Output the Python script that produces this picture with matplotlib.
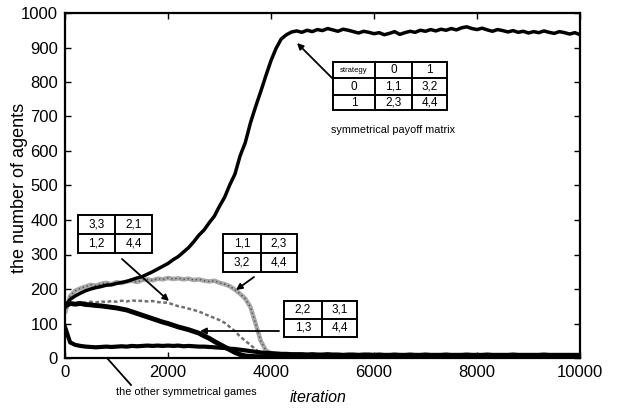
import matplotlib
matplotlib.use("Agg")
import matplotlib.pyplot as plt
from matplotlib.patches import Rectangle, FancyArrowPatch
from matplotlib.lines import Line2D

# ---------------- data ----------------
iters = list(range(0, 10001, 100))

main_game = [150, 170, 180, 188, 195, 200, 204, 207, 211, 212, 216, 219, 222, 227, 232, 236, 243, 250, 258, 266,
             274, 285, 294, 307, 320, 337, 356, 371, 392, 411, 440, 466, 502, 533, 586, 624, 681, 728, 772, 818,
             862, 898, 925, 937, 945, 948, 944, 950, 946, 952, 949, 955, 951, 947, 953, 950, 946, 942, 947, 944,
             940, 943, 937, 941, 946, 938, 943, 947, 944, 950, 947, 952, 948, 953, 950, 955, 951, 957, 960, 955,
             952, 956, 951, 947, 952, 949, 945, 949, 944, 947, 942, 946, 943, 948, 944, 941, 946, 943, 939, 943,
             937]

game_11_23 = [130, 180, 195, 202, 207, 212, 210, 215, 218, 214, 220, 217, 222, 224, 220, 226, 228, 225, 230, 228,
              232, 229, 231, 228, 230, 226, 228, 224, 222, 224, 218, 214, 208, 198, 186, 172, 148, 100, 50, 22,
              14, 12, 11, 10, 10, 9, 9, 9, 8, 8, 8, 8, 8, 8, 8, 8, 8, 8, 8, 8,
              8, 8, 8, 8, 8, 8, 8, 8, 8, 8, 8, 8, 8, 8, 8, 8, 8, 8, 8, 8,
              8, 8, 8, 8, 8, 8, 8, 8, 8, 8, 8, 8, 8, 8, 8, 8, 8, 8, 8, 8,
              8]

game_33_21 = [150, 158, 160, 162, 160, 163, 161, 164, 162, 165, 163, 166, 164, 167, 165, 166, 164, 165, 162, 161,
              160, 155, 150, 147, 143, 139, 135, 128, 122, 116, 110, 102, 90, 78, 62, 50, 38, 25, 15, 10,
              7, 6, 5, 5, 5, 5, 5, 5, 5, 5, 5, 5, 5, 5, 5, 5, 5, 5, 5, 5,
              5, 5, 5, 5, 5, 5, 5, 5, 5, 5, 5, 5, 5, 5, 5, 5, 5, 5, 5, 5,
              5, 5, 5, 5, 5, 5, 5, 5, 5, 5, 5, 5, 5, 5, 5, 5, 5, 5, 5, 5,
              5]

game_22_31 = [150, 158, 156, 158, 155, 154, 152, 151, 149, 147, 145, 142, 139, 134, 129, 124, 119, 114, 109, 104,
              100, 95, 90, 86, 82, 77, 72, 64, 57, 48, 40, 32, 24, 16, 10, 6, 5, 4, 4, 4,
              4, 4, 4, 4, 4, 4, 4, 4, 4, 4, 4, 4, 4, 4, 4, 4, 4, 4, 4, 4,
              4, 4, 4, 4, 4, 4, 4, 4, 4, 4, 4, 4, 4, 4, 4, 4, 4, 4, 4, 4,
              4, 4, 4, 4, 4, 4, 4, 4, 4, 4, 4, 4, 4, 4, 4, 4, 4, 4, 4, 4,
              4]

other_games = [90, 45, 38, 35, 33, 32, 31, 32, 33, 32, 33, 34, 33, 35, 34, 35, 36, 35, 36, 35,
               36, 35, 36, 34, 35, 34, 33, 33, 32, 31, 30, 29, 27, 26, 24, 22, 20, 18, 16, 15,
               14, 13, 12, 12, 11, 11, 11, 10, 11, 10, 10, 11, 10, 10, 9, 10, 10, 9, 10, 10,
               9, 10, 9, 9, 10, 9, 9, 10, 9, 9, 10, 9, 9, 9, 10, 9, 9, 9, 10, 9,
               9, 9, 10, 9, 9, 9, 9, 10, 9, 9, 9, 9, 9, 10, 9, 9, 9, 9, 9, 9,
               9]

x_ticks = [0, 2000, 4000, 6000, 8000, 10000]
y_ticks = [0, 100, 200, 300, 400, 500, 600, 700, 800, 900, 1000]

payoff_rows = [["strategy", "0", "1"], ["0", "1,1", "3,2"], ["1", "2,3", "4,4"]]
table_33 = [["3,3", "2,1"], ["1,2", "4,4"]]
table_11 = [["1,1", "2,3"], ["3,2", "4,4"]]
table_22 = [["2,2", "3,1"], ["1,3", "4,4"]]

# ---------------- figure ----------------
plt.rcParams['font.family'] = ['Liberation Sans', 'DejaVu Sans']
W, H = 621, 412
fig = plt.figure(figsize=(W / 100, H / 100), dpi=100)
ax = fig.add_axes([65 / W, 1 - 358 / H, 515 / W, 345 / H])

ax.plot(iters, game_11_23, color='#a8a8a8', lw=3.2, solid_capstyle='butt', zorder=2)
ax.plot(iters, game_11_23, color='#505050', lw=1.0, linestyle=(0, (1, 2)), zorder=2.1)
ax.plot(iters, game_33_21, color='#707070', lw=1.8, linestyle=(0, (1.5, 1)), zorder=2.2)
ax.plot(iters, game_22_31, color='black', lw=3.5, zorder=3)
ax.plot(iters, other_games, color='black', lw=3.0, zorder=3)
ax.plot(iters, main_game, color='black', lw=2.5, zorder=4)

ax.set_xlim(0, 10000)
ax.set_ylim(0, 1000)
ax.set_xticks(x_ticks)
ax.set_yticks(y_ticks)
ax.tick_params(direction='in', top=True, right=True, length=4, width=1,
               labelsize=12, pad=5)
for s in ax.spines.values():
    s.set_linewidth(1.6)

fig.text(318 / W, 1 - 398 / H, "iteration", ha='center', va='center',
         fontsize=11.5, style='italic')
fig.text(20 / W, 1 - 188 / H, "the number of agents", ha='center', va='center',
         fontsize=13, rotation=90)


def px(x, y):
    return (x / W, 1 - y / H)


def draw_table(rows, col_edges, row_edges, fontsizes):
    x0, x1 = col_edges[0], col_edges[-1]
    y0, y1 = row_edges[0], row_edges[-1]
    fig.add_artist(Rectangle(px(x0, y1), (x1 - x0) / W, (y1 - y0) / H,
                             transform=fig.transFigure, facecolor='white',
                             edgecolor='black', lw=1.4, zorder=5))
    for cx in col_edges[1:-1]:
        fig.add_artist(Line2D([cx / W, cx / W], [1 - y0 / H, 1 - y1 / H],
                              transform=fig.transFigure, color='black', lw=1.4, zorder=6))
    for cy in row_edges[1:-1]:
        fig.add_artist(Line2D([x0 / W, x1 / W], [1 - cy / H, 1 - cy / H],
                              transform=fig.transFigure, color='black', lw=1.4, zorder=6))
    for i, row in enumerate(rows):
        for j, txt in enumerate(row):
            cxm = (col_edges[j] + col_edges[j + 1]) / 2
            cym = (row_edges[i] + row_edges[i + 1]) / 2
            fs = fontsizes[i][j] if isinstance(fontsizes, list) else fontsizes
            fig.text(cxm / W, 1 - cym / H, txt, ha='center', va='center',
                     fontsize=fs, zorder=7)


def arrow(x_from, y_from, x_to, y_to):
    fig.add_artist(FancyArrowPatch(
        px(x_from, y_from), px(x_to, y_to), transform=fig.transFigure,
        arrowstyle='-|>', mutation_scale=9, lw=1.3, color='black',
        shrinkA=0, shrinkB=0, zorder=8))


pay_fs = [[5.5, 8.5, 8.5], [8.5, 8.5, 8.5], [8.5, 8.5, 8.5]]
draw_table(payoff_rows, [333, 375, 412, 447], [62, 78, 95, 110], pay_fs)
fig.text(393 / W, 1 - 130 / H, "symmetrical payoff matrix", ha='center', va='center', fontsize=7.8)
arrow(332, 78, 297, 43)

draw_table(table_33, [78, 115, 152], [215, 234, 253], 8.5)
arrow(122, 259, 169, 301)

draw_table(table_11, [223, 261, 297], [234, 253, 272], 8.5)
arrow(254, 277, 236, 290)

draw_table(table_22, [284, 322, 357], [301, 319, 337], 8.5)
arrow(279, 331, 200, 331)

fig.text(186 / W, 1 - 392 / H, "the other symmetrical games", ha='center', va='center', fontsize=7.8)
fig.add_artist(Line2D([107 / W, 131 / W], [1 - 358 / H, 1 - 385 / H],
                      transform=fig.transFigure, color='black', lw=1.3))

fig.savefig("out.png", dpi=100)
